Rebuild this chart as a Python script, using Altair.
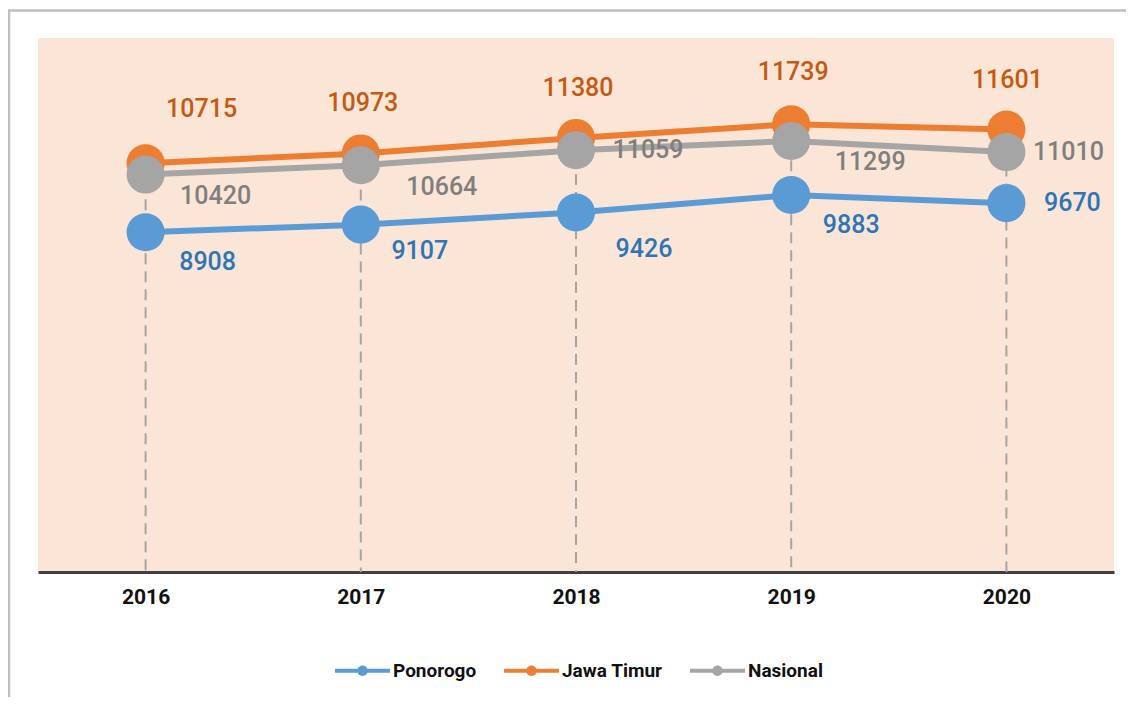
import altair as alt
import pandas as pd

# ---- data ----
years = ["2016", "2017", "2018", "2019", "2020"]
series_names = ["Ponorogo", "Jawa Timur", "Nasional"]
ponorogo = [8908, 9107, 9426, 9883, 9670]
jawa_timur = [10715, 10973, 11380, 11739, 11601]
nasional = [10420, 10664, 11059, 11299, 11010]

# ---- styles ----
line_colors = ["#5B9BD5", "#ED7D31", "#A5A5A5"]
label_colors = {"Ponorogo": "#2E75B6", "Jawa Timur": "#C55A11", "Nasional": "#7F7F7F"}
LABEL_OFFSETS = {
    "Jawa Timur": [(56, -54), (2, -50), (2, -50), (2, -52), (1, -50)],
    "Nasional": [(70, 21), (81, 22), (72, 0), (79, 21), (62, 0)],
    "Ponorogo": [(62, 30), (59, 26), (68, 37), (60, 30), (66, 0)],
}
W, H = 1076, 534

rows = []
for name, vals in zip(series_names, [ponorogo, jawa_timur, nasional]):
    for y, v in zip(years, vals):
        rows.append({"year": y, "series": name, "value": v})
df = pd.DataFrame(rows)

x_enc = alt.X("year:O", scale=alt.Scale(type="point", padding=0.5),
              axis=alt.Axis(title=None, labelAngle=0, ticks=False, domainColor="#404040",
                            domainWidth=3, labelFont="Roboto",
                            labelFontWeight="bold", labelFontSize=21, labelColor="#111111",
                            labelPadding=14, grid=False))
y_scale = alt.Scale(domain=[0, 14000], nice=False, zero=True)
y_enc = alt.Y("value:Q", scale=y_scale, axis=None)
color_scale = alt.Scale(domain=series_names, range=line_colors)

base = alt.Chart(df)

border = alt.Chart(alt.Data(values=[{}])).mark_rect(
    filled=False, stroke="#BFBFBF", strokeWidth=2.5
).encode(x=alt.value(-29), x2=alt.value(3000), y=alt.value(-27.5), y2=alt.value(3000))

drops = base.mark_rule(color="#A5A5A5", strokeWidth=2, strokeDash=[11, 7]).encode(
    x=x_enc,
    y=alt.Y("max(value):Q", scale=y_scale, axis=None),
    y2=alt.Y2(datum=0),
)

lines = base.mark_line(strokeWidth=6).encode(
    x=x_enc, y=y_enc,
    color=alt.Color("series:N", scale=color_scale, legend=None),
    detail="series:N",
)

legend_path = ("M-1,-0.075H1V0.075H-1Z "
               "M0.19,0A0.19,0.19,0,1,1,-0.19,0A0.19,0.19,0,1,1,0.19,0Z")
points = base.mark_circle(size=1450, opacity=1).encode(
    x=x_enc, y=y_enc,
    color=alt.Color("series:N", scale=color_scale, legend=alt.Legend(
        title=None, orient="none", direction="horizontal", legendX=297, legendY=605,
        symbolType=legend_path, symbolSize=3025, symbolStrokeWidth=0, symbolOpacity=1,
        labelFont="Roboto", labelFontWeight="bold", labelFontSize=19, labelColor="#111111",
        labelOffset=3, columnPadding=27, padding=0)),
)

layers = [border, drops, lines, points]
for name in series_names:
    for i, yr in enumerate(years):
        dx, dy = LABEL_OFFSETS[name][i]
        layers.append(
            base.transform_filter(
                (alt.datum.series == name) & (alt.datum.year == yr)
            ).mark_text(
                dx=dx, dy=dy, align="center", baseline="middle",
                font="Roboto", fontSize=25, fontWeight=500, color=label_colors[name]
            ).encode(x=x_enc, y=y_enc, text="value:Q")
        )

chart = alt.layer(*layers).resolve_legend(color="independent").properties(
    width=W, height=H,
    background="white",
    autosize=alt.AutoSizeParams(type="none"),
    padding={"left": 30, "top": 30, "right": 12, "bottom": 125},
).configure_view(fill="#FBE5D6", stroke=None)

chart.save("out.html", embed_options={"renderer": "svg", "actions": False})
